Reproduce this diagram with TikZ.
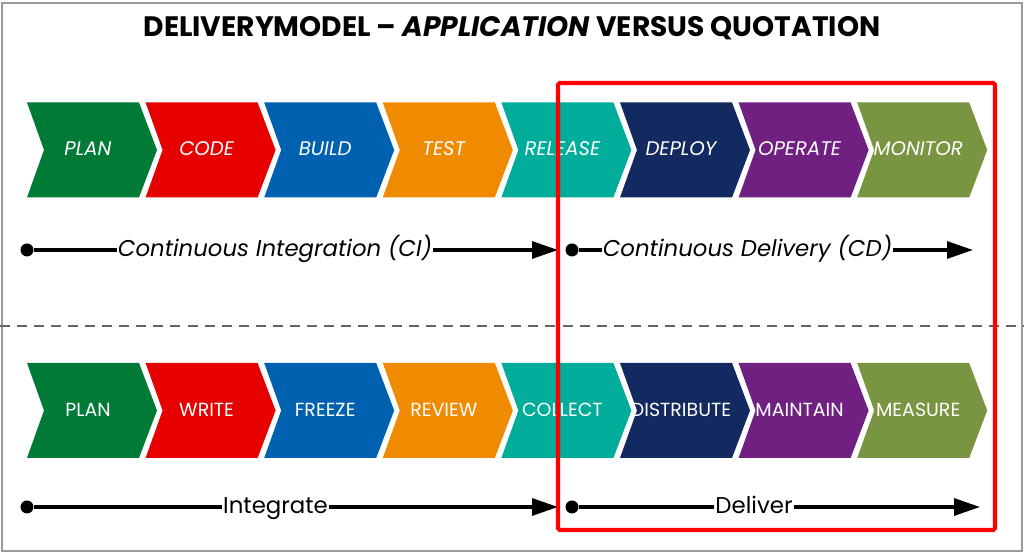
\documentclass[tikz,border=0pt]{standalone}
\usepackage{fontspec}
\setmainfont{Poppins}
\usetikzlibrary{arrows.meta,calc}
\definecolor{DmInk}{HTML}{000000}
\definecolor{DmFrame}{HTML}{9A9A9A}
\definecolor{DmDash}{HTML}{666666}
\definecolor{DmFocus}{HTML}{FF0000}
\definecolor{DmPlan}{HTML}{007A37}
\definecolor{DmCode}{HTML}{E60000}
\definecolor{DmBuild}{HTML}{0061B0}
\definecolor{DmTest}{HTML}{F08A00}
\definecolor{DmRelease}{HTML}{00AC9A}
\definecolor{DmDeploy}{HTML}{122A5F}
\definecolor{DmOperate}{HTML}{702080}
\definecolor{DmMonitor}{HTML}{799541}
\tikzset{
  dm title/.style={font=\bfseries\fontsize{16}{19}\selectfont, text=DmInk},
  dm stage/.style={font=\itshape\fontsize{11.2}{13}\selectfont, text=white, inner sep=0pt},
  dm step/.style={font=\fontsize{10.8}{12.5}\selectfont, text=white, inner sep=0pt},
  dm phase/.style={font=\fontsize{13}{15}\selectfont, text=DmInk, inner sep=.5pt,
    text height=.7em, text depth=0pt},
  dm dot/.style={circle, fill=DmInk, minimum size=.26cm, inner sep=0pt},
  dm track/.style={draw=DmInk, line width=1.8pt},
  dm track arrow/.style={dm track, -{Triangle[length=5.2mm,width=3.4mm]}},
  dm divider/.style={draw=DmDash, line width=.8pt, dash pattern=on 5.7pt off 4pt},
  dm focus/.style={draw=DmFocus, line width=2.3pt, rounded corners=1pt},
  dm frame/.style={draw=DmFrame, line width=.8pt},
}

\begin{document}
\begin{tikzpicture}[x=1cm,y=1cm]
  \useasboundingbox (0,0) rectangle (20.48,11.06);
  \fill[white] (0,0) rectangle (20.48,11.06);
  \draw[dm frame] (.04,.04) rectangle (20.44,11.00);

  \node[dm title, anchor=base] (title) at (10.24,10.32)
    {DELIVERYMODEL -- \textit{APPLICATION} VERSUS QUOTATION};

  % chevron rows: application on top, quotation below
  \foreach \i/\upper/\lower/\col in {0/PLAN/PLAN/DmPlan, 1/CODE/WRITE/DmCode,
      2/BUILD/FREEZE/DmBuild, 3/TEST/REVIEW/DmTest, 4/RELEASE/COLLECT/DmRelease,
      5/DEPLOY/DISTRIBUTE/DmDeploy, 6/OPERATE/MAINTAIN/DmOperate, 7/MONITOR/MEASURE/DmMonitor}{
    \pgfmathsetmacro\xa{.54+2.372*\i}
    \fill[\col] (\xa,9.01) -- ++(2.24,0) -- ++(.36,-.95) -- ++(-.36,-.95)
      -- ++(-2.24,0) -- ++(.34,.95) -- cycle;
    \node[dm stage] (app-\i) at (\xa+1.22,8.08) {\upper};
    \fill[\col] (\xa,3.80) -- ++(2.24,0) -- ++(.36,-.95) -- ++(-.36,-.95)
      -- ++(-2.24,0) -- ++(.34,.95) -- cycle;
    \node[dm step] (quo-\i) at (\xa+1.22,2.86) {\lower};
  }

  % CI / CD
  \node[dm dot] (ci start) at (.54,6.06) {};
  \node[dm phase, font=\itshape\fontsize{13}{15}\selectfont] (ci) at (5.50,6.06)
    {Continuous Integration (CI)};
  \coordinate (ci end) at (11.16,6.06);
  \draw[dm track] (ci start) -- (ci);
  \draw[dm track arrow] (ci) -- (ci end);

  \node[dm dot] (cd start) at (11.44,6.06) {};
  \node[dm phase, font=\itshape\fontsize{13}{15}\selectfont] (cd) at (14.95,6.06)
    {Continuous Delivery (CD)};
  \coordinate (cd end) at (19.46,6.06);
  \draw[dm track] (cd start) -- (cd);
  \draw[dm track arrow] (cd) -- (cd end);

  \draw[dm divider] (0,4.54) -- (20.48,4.54);

  % integrate / deliver
  \node[dm dot] (int start) at (.54,.92) {};
  \node[dm phase] (int) at (5.51,.92) {Integrate};
  \coordinate (int end) at (11.16,.92);
  \draw[dm track] (int start) -- (int);
  \draw[dm track arrow] (int) -- (int end);

  \node[dm dot] (del start) at (11.44,.92) {};
  \node[dm phase] (del) at (15.08,.92) {Deliver};
  \coordinate (del end) at (19.60,.92);
  \draw[dm track] (del start) -- (del);
  \draw[dm track arrow] (del) -- (del end);

  \draw[dm focus] (11.16,9.40) rectangle (19.90,.46);
\end{tikzpicture}
\end{document}
